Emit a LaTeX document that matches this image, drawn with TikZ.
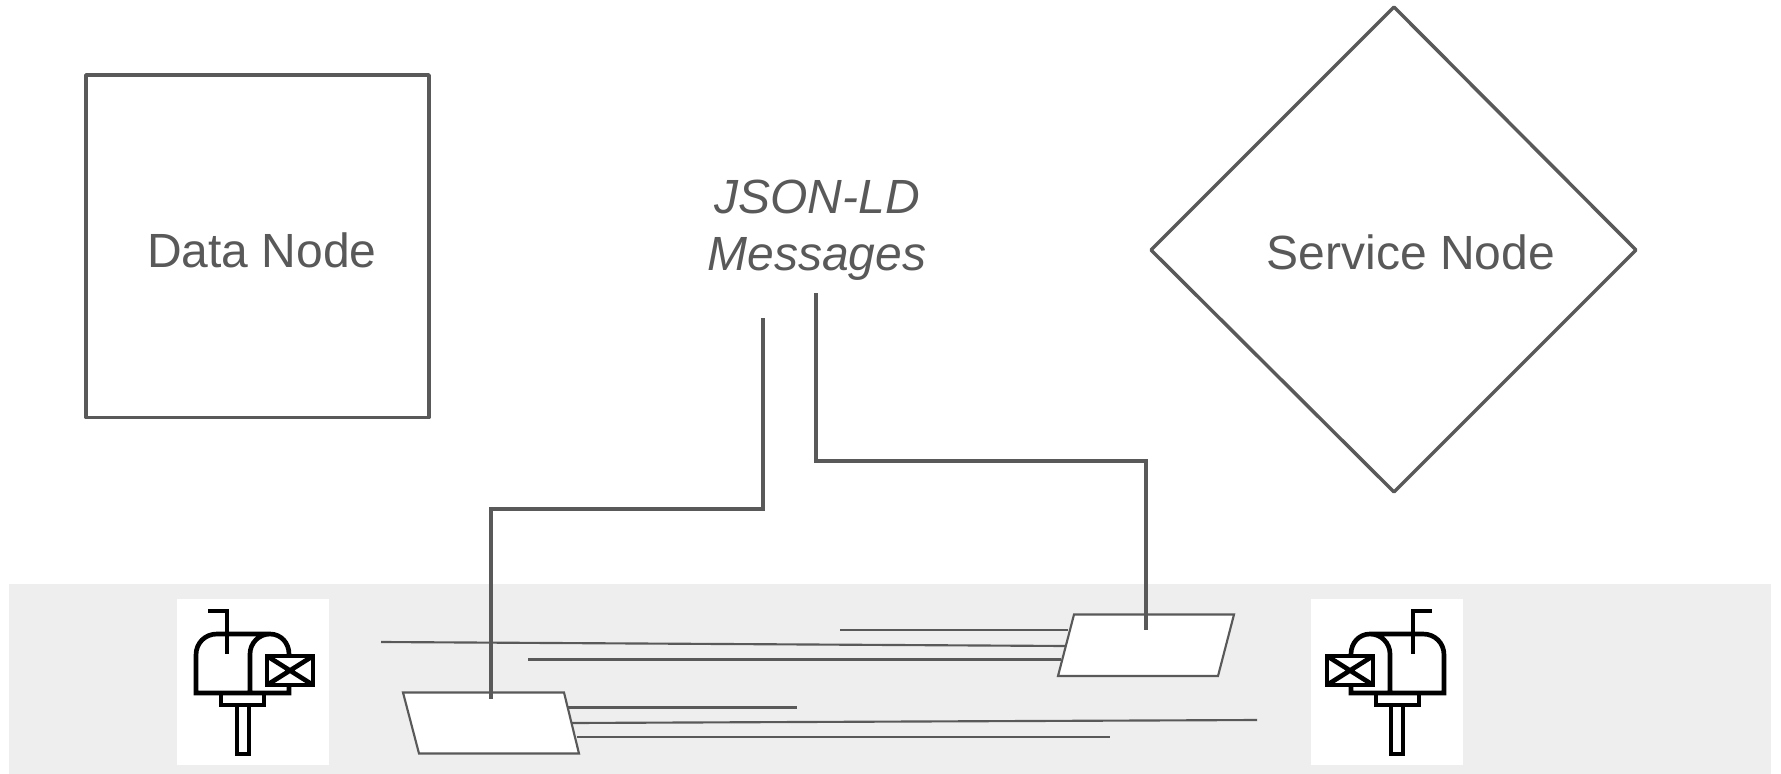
\documentclass[tikz,border=0pt]{standalone}
\usepackage{fontspec}
\setmainfont{Liberation Sans}
\definecolor{inkgrey}{RGB}{89,89,89}
\definecolor{bandgrey}{RGB}{238,238,238}
\tikzset{every picture/.style={line width=0.75pt}}
\tikzset{
  outline/.style={draw=inkgrey,line width=2.6pt,line join=round},
  wire/.style={draw=inkgrey,line width=2.6pt},
  thinwire/.style={draw=inkgrey,line width=1.6pt},
  slip/.style={draw=inkgrey,fill=white,line width=1.6pt},
  caption/.style={inner sep=0.75pt,anchor=base,text=inkgrey,font=\fontsize{36}{42}\selectfont},
  slanted/.style={caption,font=\fontsize{36}{42}\selectfont\itshape},
  boxline/.style={draw=black,line width=3.5pt,line join=miter}
}
\newcommand{\drawmailbox}{
  %white tile
  \fill [white] (177,599) rectangle (329,765) ;
  %flag
  \draw [boxline] (208,611) -- (227,611) -- (227,654) ;
  %body and door
  \draw [boxline] (250,693) -- (196,693) -- (196,655) .. controls (196,643) and (205,634) .. (217,634) -- (270,634) .. controls (281,634) and (289,643) .. (289,654) -- (289,693) -- (250,693) -- (250,654) .. controls (250,643) and (259,634) .. (270,634) ;
  %stand and post
  \draw [boxline] (221,693) -- (221,705) -- (264,705) -- (264,693) ;
  \draw [boxline] (237,705) -- (237,754) -- (249,754) -- (249,705) ;
  %envelope
  \draw [boxline,fill=white] (267,656) rectangle (313,685) ;
  \draw [boxline] (267,656) -- (313,685) (267,685) -- (313,656) ;
}
\begin{document}
\begin{tikzpicture}[x=0.75pt,y=0.75pt,yscale=-1,xscale=1]
\useasboundingbox (0,0) rectangle (1781,774);

%Shapes
\draw [outline] (86,75) rectangle (429,417.5) ;
\draw [outline] (1394,7) -- (1636,250) -- (1394,492) -- (1151,250) -- cycle ;
\fill [bandgrey] (9,584) rectangle (1771,774) ;
\drawmailbox
\begin{scope}[xshift=1230pt,xscale=-1]
\drawmailbox
\end{scope}

%Ends of the lines
\coordinate (leftA) at (568,707.5);
\coordinate (leftB) at (572,723);
\coordinate (leftC) at (577,737);
\coordinate (rightA) at (1068,630);
\coordinate (rightB) at (1066,646);
\coordinate (rightC) at (1061,659.5);
\coordinate (farA) at (797,707.5);
\coordinate (farB) at (1257,720);
\coordinate (farC) at (1110,737);
\coordinate (farD) at (840,630);
\coordinate (farE) at (381,642);
\coordinate (farF) at (528,659.5);
\coordinate (msgLeft) at (763,318);
\coordinate (cornerA) at (763,509);
\coordinate (cornerB) at (491,509);
\coordinate (slipLeft) at (491,699);
\coordinate (msgRight) at (816,293);
\coordinate (cornerC) at (816,461);
\coordinate (cornerD) at (1146,461);
\coordinate (slipRight) at (1146,630);

%Straight Lines
\draw [thinwire] (leftA) -- (farA) ;
\draw [thinwire] (leftB) -- (farB) ;
\draw [thinwire] (leftC) -- (farC) ;
\draw [thinwire] (farD) -- (rightA) ;
\draw [thinwire] (farE) -- (rightB) ;
\draw [thinwire] (farF) -- (rightC) ;

%Slips
\draw [slip] (403,692.5) -- (564,692.5) -- (579,753.5) -- (419,753.5) -- cycle ;
\draw [slip] (1074,614.5) -- (1234,614.5) -- (1218,676) -- (1058,676) -- cycle ;

%Connectors
\draw [wire] (msgLeft) -- (cornerA) -- (cornerB) -- (slipLeft) ;
\draw [wire] (msgRight) -- (cornerC) -- (cornerD) -- (slipRight) ;

% Text Node
\node [caption] (dataLabel) at (262,267) {Data Node};
% Text Node
\node [caption] (serviceLabel) at (1411,269) {Service Node};
% Text Node
\node [slanted] (jsonLabel) at (817,213) {JSON-LD};
% Text Node
\node [slanted] (messagesLabel) at (817,270) {Messages};

\end{tikzpicture}
\end{document}
